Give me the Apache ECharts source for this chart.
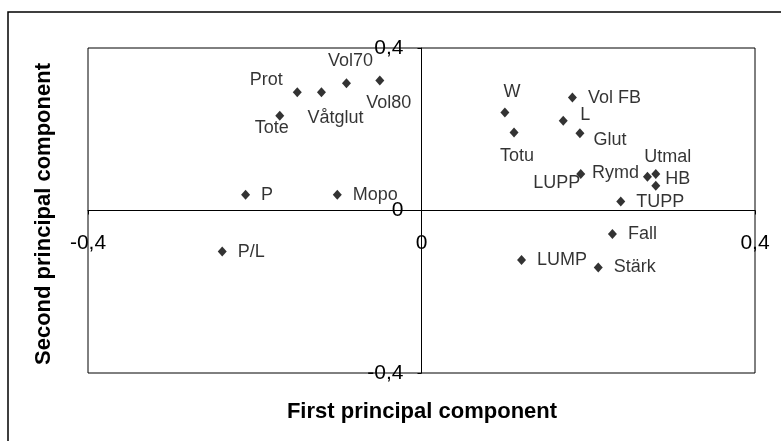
<!DOCTYPE html>
<html>
<head>
<meta charset="utf-8">
<script src="https://cdn.jsdelivr.net/npm/echarts@6/dist/echarts.min.js"></script>
<style>html,body{margin:0;padding:0;background:#fff}#c{width:781px;height:441px}</style>
</head>
<body>
<div id="c"></div>
<script>
// ---- data ----
const names = ['Prot','Våtglut','Vol70','Vol80','Tote','P','Mopo','P/L','W','Vol FB','L','Totu','Glut','LUPP','Rymd','Utmal','HB','TUPP','Fall','LUMP','Stärk'];
const pc1 = [-0.149,-0.120,-0.090,-0.050,-0.170,-0.211,-0.101,-0.239,0.100,0.181,0.170,0.111,0.190,0.191,0.271,0.281,0.281,0.239,0.229,0.120,0.212];
const pc2 = [0.291,0.291,0.313,0.320,0.233,0.039,0.039,-0.101,0.241,0.278,0.221,0.192,0.190,0.090,0.083,0.090,0.061,0.022,-0.058,-0.122,-0.140];
const axisTicks = [-0.4, 0, 0.4];
const xTitle = 'First principal component';
const yTitle = 'Second principal component';

// ---- label placement (style, not data) ----
const labelPlace = {
  'Prot':[-31,-12], 'Våtglut':[14,26], 'Vol70':[4,-22], 'Vol80':[9,23], 'Tote':[-8,12],
  'W':[7,-21], 'L':[22,-6], 'Totu':[3,24], 'Glut':[30,7], 'LUPP':[-24,9],
  'Rymd':[-32,-4], 'Utmal':[12,-17], 'HB':[22,-7]
};

const FONT = 'Liberation Sans, Arial, sans-serif';
const fmt = v => (Math.abs(v) < 1e-9 ? '0' : String(v).replace('.', ','));

// layout
const G = {left:88, right:26, top:48, bottom:68, W:781, H:441};
const plotW = G.W - G.left - G.right, plotH = G.H - G.top - G.bottom;
const lo = axisTicks[0], hi = axisTicks[axisTicks.length-1];
// shift axes so they cross at zero
const xAxisOffset = -plotH * (0 - lo) / (hi - lo);   // move bottom axis up to y=0
const yAxisOffset = -plotW * (0 - lo) / (hi - lo);   // move left axis right to x=0

const data = names.map((n, i) => {
  const off = labelPlace[n];
  const label = off
    ? {position:'inside', offset: off, align:'center', verticalAlign:'middle'}
    : {position:'right', distance: 11};
  return {name:n, value:[pc1[i], pc2[i]], label};
});

const chart = echarts.init(document.getElementById('c'), null, {renderer:'canvas'});
chart.setOption({
  backgroundColor:'#fff',
  animation:false,
  grid:{left:G.left, right:G.right, top:G.top, bottom:G.bottom, show:true, borderColor:'#000', borderWidth:1, backgroundColor:'transparent'},
  xAxis:{
    type:'value', min:lo, max:hi, interval:0.4, position:'bottom', offset:xAxisOffset,
    axisLine:{onZero:false, lineStyle:{color:'#000', width:1}},
    axisTick:{show:true, length:4, lineStyle:{color:'#000'}},
    splitLine:{show:false},
    axisLabel:{margin:22, color:'#000', fontSize:21, fontFamily:FONT, formatter:fmt, showMinLabel:true, showMaxLabel:true}
  },
  yAxis:{
    type:'value', min:lo, max:hi, interval:0.4, position:'left', offset:yAxisOffset,
    axisLine:{onZero:false, lineStyle:{color:'#000', width:1}},
    axisTick:{show:true, length:4, lineStyle:{color:'#000'}},
    splitLine:{show:false},
    axisLabel:{margin:18, color:'#000', fontSize:21, fontFamily:FONT, formatter:fmt, showMinLabel:true, showMaxLabel:true}
  },
  series:[{
    type:'scatter',
    symbol:'diamond',
    symbolSize:[9,10],
    itemStyle:{color:'#000'},
    label:{show:true, formatter:p=>p.name, color:'#000', fontSize:18, fontFamily:FONT},
    data:data
  }],
  graphic:[
    {type:'rect', shape:{x:8, y:12, width:1000, height:1000}, style:{fill:'none', stroke:'#000', lineWidth:1.5}, silent:true},
    {type:'text', x:422, y:412, style:{text:xTitle, font:'bold 22px '+FONT, fill:'#000', textAlign:'center', textVerticalAlign:'middle'}},
    {type:'text', x:44, y:214, rotation:Math.PI/2, style:{text:yTitle, font:'bold 22px '+FONT, fill:'#000', textAlign:'center', textVerticalAlign:'middle'}}
  ]
});
</script>
</body>
</html>
